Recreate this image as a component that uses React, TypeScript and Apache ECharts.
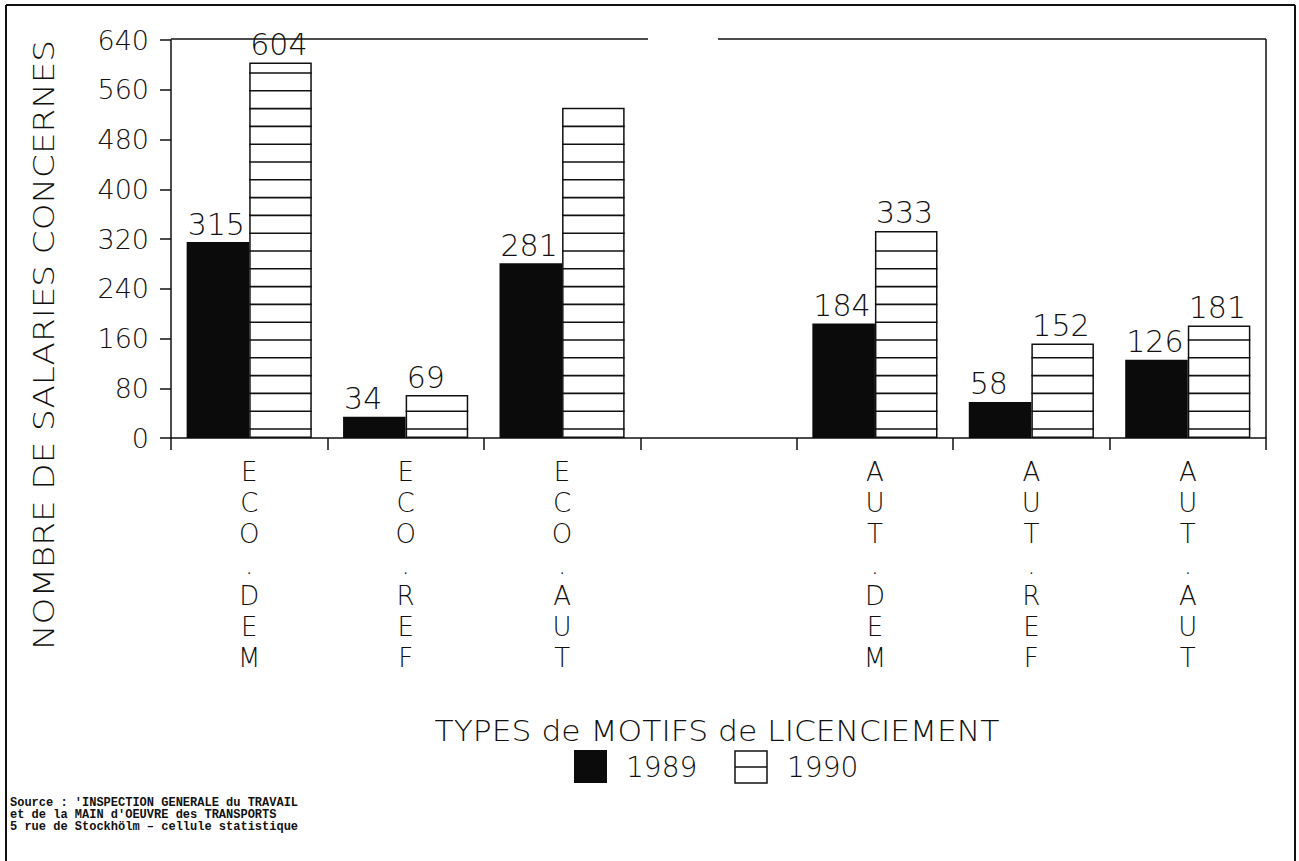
import React, { useEffect, useRef } from "react";
import * as echarts from "echarts";

const categories = ["ECO.DEM", "ECO.REF", "ECO.AUT", "", "AUT.DEM", "AUT.REF", "AUT.AUT"];
const values1989: (number | null)[] = [315, 34, 281, null, 184, 58, 126];
const values1990: (number | null)[] = [604, 69, 531, null, 333, 152, 181];
const hiddenLabel1990 = [2];
const yTicks = { min: 0, max: 640, interval: 80 };
const seriesNames = ["1989", "1990"];
const yTitle = "NOMBRE DE SALARIES CONCERNES";
const xTitle = "TYPES de MOTIFS de LICENCIEMENT";
const sourceLines = [
  "Source : 'INSPECTION GENERALE du TRAVAIL",
  "et de la MAIN d'OEUVRE des TRANSPORTS",
  "5 rue de Stockhölm – cellule statistique",
];

const FONT = "'DejaVu Sans', 'Liberation Sans', sans-serif";
const INK = "#111";

export default function App() {
  const ref = useRef<HTMLDivElement>(null);
  useEffect(() => {
    if (!ref.current) return;
    const chart = echarts.init(ref.current, null, { renderer: "svg" });
    const BAR_FRAC = 0.4;
    const labelStyle = {
      show: true,
      position: [1, -3],
      align: "left",
      verticalAlign: "bottom",
      fontFamily: FONT,
      fontWeight: 200,
      fontSize: 30,
      color: INK,
    };
    const hatchData = values1990
      .map((v, i) => (v == null ? null : [i, v]))
      .filter((d) => d != null);
    chart.setOption({
      animation: false,
      backgroundColor: "#fff",
      grid: { left: 171, top: 40, width: 1095, height: 398, containLabel: false },
      xAxis: {
        type: "category",
        data: categories,
        axisLine: { lineStyle: { color: INK, width: 1.5 } },
        axisTick: { show: true, length: 12, lineStyle: { color: INK, width: 1.5 } },
        axisLabel: {
          interval: 0,
          margin: 18,
          fontFamily: FONT,
          fontWeight: 200,
          fontSize: 26,
          lineHeight: 31,
          color: INK,
          formatter: (v: string) => v.split("").join("\n"),
        },
      },
      yAxis: {
        type: "value",
        min: yTicks.min,
        max: yTicks.max,
        interval: yTicks.interval,
        axisLine: { show: true, lineStyle: { color: INK, width: 1.5 } },
        axisTick: { show: true, length: 11, lineStyle: { color: INK, width: 1.5 } },
        splitLine: { show: false },
        axisLabel: { margin: 22, fontFamily: FONT, fontWeight: 200, fontSize: 27, color: INK },
      },
      series: [
        {
          name: seriesNames[0],
          type: "bar",
          data: values1989,
          barWidth: "40%",
          barGap: "0%",
          itemStyle: { color: "#0b0b0b" },
          label: labelStyle,
        },
        {
          name: seriesNames[1],
          type: "bar",
          data: values1990.map((v, i) =>
            hiddenLabel1990.includes(i) ? { value: v, label: { show: false } } : v
          ),
          barWidth: "40%",
          itemStyle: { color: "#fff", borderColor: INK, borderWidth: 1.5 },
          label: labelStyle,
        },
        {
          type: "custom",
          data: hatchData,
          encode: { x: 0, y: 1 },
          z: 5,
          silent: true,
          renderItem: (params: any, api: any) => {
            const idx = api.value(0);
            const v = api.value(1);
            const base = api.coord([idx, 0]);
            const top = api.coord([idx, v]);
            const bw = api.size([1, 0])[0] * BAR_FRAC;
            const x0 = base[0];
            const x1 = base[0] + bw;
            const children: any[] = [];
            for (let y = base[1] - 9; y > top[1] + 3; y -= 17.8) {
              children.push({
                type: "line",
                shape: { x1: x0, y1: y, x2: x1, y2: y },
                style: { stroke: INK, lineWidth: 1.6 },
              });
            }
            return { type: "group", children };
          },
        },
      ],
      graphic: [
        // outer frame
        { type: "line", shape: { x1: 6, y1: 5, x2: 1295, y2: 5 }, style: { stroke: INK, lineWidth: 2 } },
        { type: "line", shape: { x1: 6, y1: 5, x2: 6, y2: 861 }, style: { stroke: INK, lineWidth: 2 } },
        { type: "line", shape: { x1: 1295, y1: 5, x2: 1295, y2: 861 }, style: { stroke: INK, lineWidth: 2 } },
        // plot frame (top with gap, right)
        { type: "line", shape: { x1: 171, y1: 39, x2: 648, y2: 39 }, style: { stroke: INK, lineWidth: 1.5 } },
        { type: "line", shape: { x1: 718, y1: 39, x2: 1266, y2: 39 }, style: { stroke: INK, lineWidth: 1.5 } },
        { type: "line", shape: { x1: 1266, y1: 39, x2: 1266, y2: 438 }, style: { stroke: INK, lineWidth: 1.5 } },
        // y axis title
        {
          type: "text",
          x: 44,
          y: 345,
          rotation: Math.PI / 2,
          scaleX: 1.22,
          style: {
            text: yTitle,
            fontFamily: FONT,
            fontWeight: 200,
            fontSize: 28,
            fill: INK,
            align: "center",
            verticalAlign: "middle",
          },
        },
        // x axis title
        {
          type: "text",
          x: 717,
          y: 731,
          scaleX: 1.12,
          style: {
            text: xTitle,
            fontFamily: FONT,
            fontWeight: 200,
            fontSize: 28,
            fill: INK,
            align: "center",
            verticalAlign: "middle",
          },
        },
        // legend
        { type: "rect", shape: { x: 574, y: 750, width: 33, height: 33 }, style: { fill: "#0b0b0b" } },
        {
          type: "text",
          x: 626,
          y: 767,
          style: { text: seriesNames[0], fontFamily: FONT, fontWeight: 200, fontSize: 28, fill: INK, verticalAlign: "middle" },
        },
        { type: "rect", shape: { x: 735, y: 751, width: 32, height: 32 }, style: { fill: "#fff", stroke: INK, lineWidth: 1.5 } },
        { type: "line", shape: { x1: 735, y1: 767, x2: 767, y2: 767 }, style: { stroke: INK, lineWidth: 1.5 } },
        {
          type: "text",
          x: 787,
          y: 767,
          style: { text: seriesNames[1], fontFamily: FONT, fontWeight: 200, fontSize: 28, fill: INK, verticalAlign: "middle" },
        },
        // source
        {
          type: "text",
          x: 10,
          y: 797,
          style: {
            text: sourceLines.join("\n"),
            fontFamily: "'Liberation Mono', monospace",
            fontWeight: "bold",
            fontSize: 12,
            lineHeight: 12,
            fill: INK,
          },
        },
      ],
    });
    return () => chart.dispose();
  }, []);
  return (
    <div
      ref={ref}
      style={{ position: "absolute", left: 0, top: 0, width: 1299, height: 861, background: "#fff" }}
    />
  );
}
